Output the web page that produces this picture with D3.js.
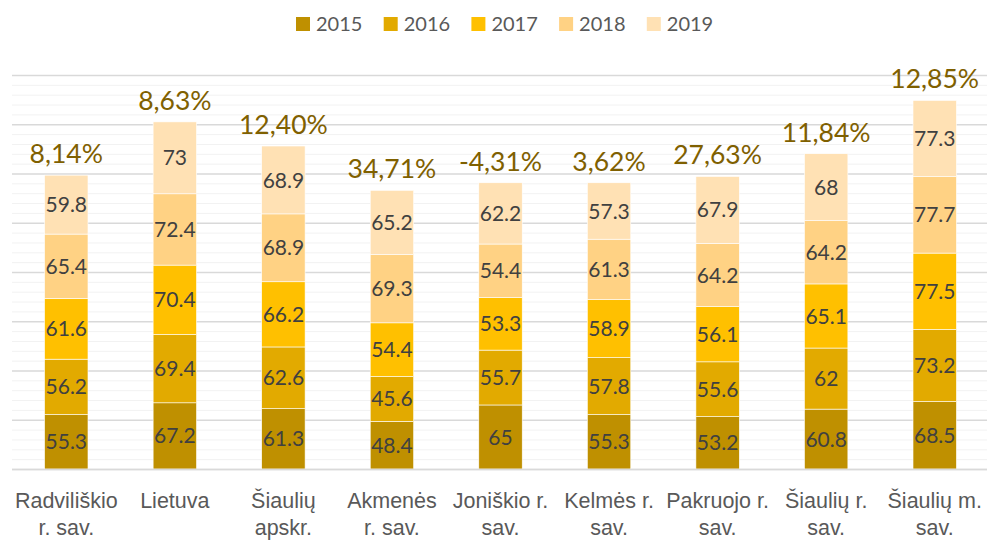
<!DOCTYPE html>
<html>
<head>
<meta charset="utf-8">
<script src="https://cdn.jsdelivr.net/npm/d3@7"></script>
<style>
  html, body { margin: 0; padding: 0; background: #fff; }
  svg { display: block; font-family: Lato, "Open Sans", sans-serif; }
</style>
</head>
<body>
<svg id="chart" width="987" height="540"></svg>
<script>
// ---- data ----
const categories = [
  "Radviliškio r. sav.", "Lietuva", "Šiaulių apskr.", "Akmenės r. sav.",
  "Joniškio r. sav.", "Kelmės r. sav.", "Pakruojo r. sav.", "Šiaulių r. sav.", "Šiaulių m. sav."
];
const categoryLines = [
  ["Radviliškio", "r. sav."], ["Lietuva"], ["Šiaulių", "apskr."], ["Akmenės", "r. sav."],
  ["Joniškio r.", "sav."], ["Kelmės r.", "sav."], ["Pakruojo r.", "sav."], ["Šiaulių r.", "sav."], ["Šiaulių m.", "sav."]
];
const years = ["2015", "2016", "2017", "2018", "2019"];
const v2015 = [55.3, 67.2, 61.3, 48.4, 65, 55.3, 53.2, 60.8, 68.5];
const v2016 = [56.2, 69.4, 62.6, 45.6, 55.7, 57.8, 55.6, 62, 73.2];
const v2017 = [61.6, 70.4, 66.2, 54.4, 53.3, 58.9, 56.1, 65.1, 77.5];
const v2018 = [65.4, 72.4, 68.9, 69.3, 54.4, 61.3, 64.2, 64.2, 77.7];
const v2019 = [59.8, 73, 68.9, 65.2, 62.2, 57.3, 67.9, 68, 77.3];
const changeLabels = ["8,14%", "8,63%", "12,40%", "34,71%", "-4,31%", "3,62%", "27,63%", "11,84%", "12,85%"];
const yMax = 400;
const majorTicks = [0, 50, 100, 150, 200, 250, 300, 350, 400];
const minorTicks = d3.range(0, 401, 10).filter(t => t % 50 !== 0);

const seriesValues = [v2015, v2016, v2017, v2018, v2019];
const colors = ["#BF9000", "#E2AA00", "#FFC000", "#FFD284", "#FFE1B4"];

// ---- layout ----
const svg = d3.select("#chart");
const plotLeft = 12, plotRight = 989, plotTop = 75, plotBottom = 469;

const x = d3.scaleBand().domain(categories).range([plotLeft, plotRight]).paddingInner(0.6).paddingOuter(0.3);
const y = d3.scaleLinear().domain([0, yMax]).range([plotBottom, plotTop]);
const color = d3.scaleOrdinal().domain(years).range(colors);

// gridlines
const gMinor = svg.append("g").attr("transform", `translate(${plotLeft},0)`)
  .call(d3.axisLeft(y).tickValues(minorTicks).tickSize(-(plotRight - plotLeft)).tickFormat(""));
gMinor.select(".domain").remove();
gMinor.selectAll("line").attr("stroke", "#F2F2F2").attr("stroke-width", 1);

const gMajor = svg.append("g").attr("transform", `translate(${plotLeft},0)`)
  .call(d3.axisLeft(y).tickValues(majorTicks).tickSize(-(plotRight - plotLeft)).tickFormat(""));
gMajor.select(".domain").remove();
gMajor.selectAll("line").attr("stroke", "#D9D9D9").attr("stroke-width", 1.3);

// stacked data
const rows = categories.map((c, i) => {
  const r = { cat: c };
  years.forEach((yr, k) => r[yr] = seriesValues[k][i]);
  return r;
});
const stacked = d3.stack().keys(years)(rows);

const layers = svg.append("g").selectAll("g").data(stacked).join("g")
  .attr("fill", d => color(d.key));

layers.selectAll("rect").data(d => d).join("rect")
  .attr("x", d => x(d.data.cat))
  .attr("width", x.bandwidth())
  .attr("y", d => y(d[1]))
  .attr("height", d => y(d[0]) - y(d[1]))
  .attr("stroke", "#fff")
  .attr("stroke-width", 0.6);

// value labels
const labels = svg.append("g");
stacked.forEach(layer => {
  layer.forEach(d => {
    labels.append("text")
      .attr("x", x(d.data.cat) + x.bandwidth() / 2)
      .attr("y", (y(d[0]) + y(d[1])) / 2)
      .attr("dy", "0.36em")
      .attr("text-anchor", "middle")
      .attr("font-size", 21)
      .attr("fill", "#404040")
      .text(d.data[layer.key]);
  });
});

// change labels
const last = stacked[stacked.length - 1];
svg.append("g").selectAll("text").data(last).join("text")
  .attr("x", d => x(d.data.cat) + x.bandwidth() / 2)
  .attr("y", d => y(d[1]) - 12)
  .attr("text-anchor", "middle")
  .attr("font-size", 26.5)
  .attr("fill", "#7F6000")
  .text((d, i) => changeLabels[i]);

// x axis
const gx = svg.append("g").attr("transform", `translate(0,${plotBottom})`)
  .call(d3.axisBottom(x).tickSize(0).tickFormat(""));
gx.select(".domain").attr("stroke", "#D9D9D9").attr("stroke-width", 1.3)
  .attr("d", `M${plotLeft},0.5H${plotRight}`);
gx.selectAll(".tick").each(function (d, i) {
  const t = d3.select(this).append("text")
    .attr("fill", "#595959")
    .attr("font-size", 21.5)
    .attr("text-anchor", "middle")
    .attr("y", 39);
  categoryLines[i].forEach((ln, j) => {
    t.append("tspan").attr("x", 0).attr("dy", j === 0 ? 0 : 26.5).text(ln);
  });
});

// legend
const itemW = 87.7;
const legendStart = 296;
const lg = svg.append("g").selectAll("g").data(years).join("g")
  .attr("transform", (d, i) => `translate(${legendStart + i * itemW},17)`);
lg.append("rect").attr("width", 14).attr("height", 14).attr("fill", d => color(d));
lg.append("text").attr("x", 20).attr("y", 13.8).attr("font-size", 20)
  .attr("fill", "#595959").text(d => d);
</script>
</body>
</html>
